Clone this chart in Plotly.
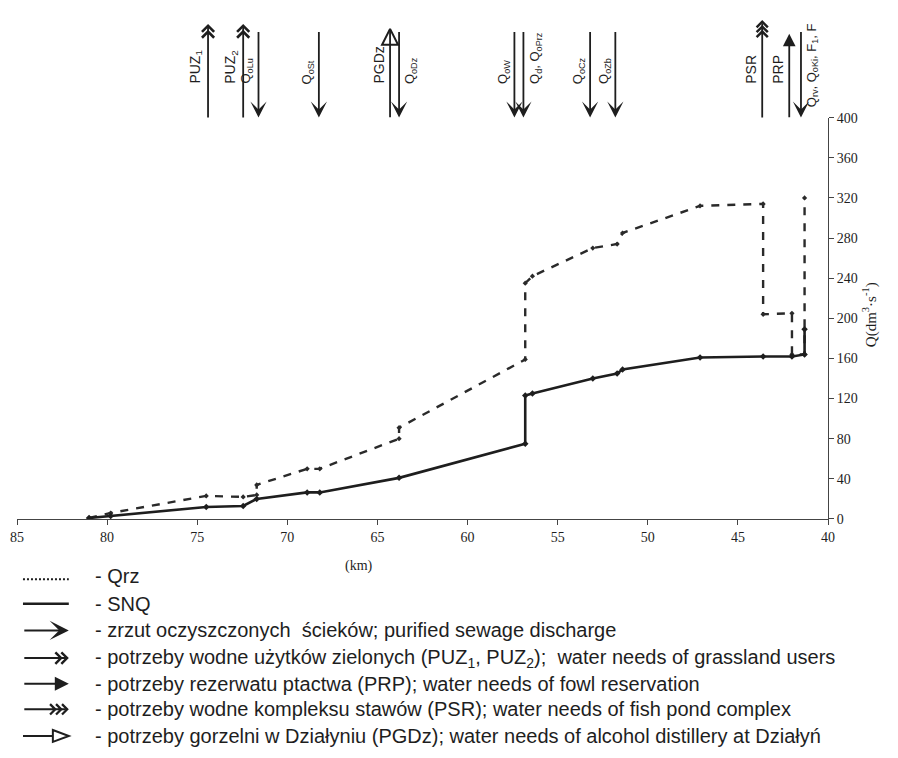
import plotly.graph_objects as go

# ---------------- data ----------------
km_snq = [81.0, 79.8, 74.5, 72.45, 71.7, 68.9, 68.2, 63.8, 56.8, 56.8, 56.4, 53.05,
          51.7, 51.4, 47.1, 43.6, 42.0, 41.3, 41.3]
q_snq = [1, 3, 12, 13, 20, 26.5, 26.5, 41, 75, 123, 125, 140, 145, 149, 161, 162,
         162, 164, 189]

km_qrz = [81.0, 79.8, 74.5, 72.45, 71.7, 71.7, 68.9, 68.2, 63.8, 63.8, 56.8, 56.8,
          56.4, 53.05, 51.7, 51.4, 47.1, 43.6, 43.6, 42.0, 42.0, 41.3, 41.3]
q_qrz = [1, 6, 23, 22, 24, 34, 50, 50, 80, 91, 159, 235, 242, 270, 274, 285, 312,
         314, 204, 205, 164, 164, 320]

x_ticks = [85, 80, 75, 70, 65, 60, 55, 50, 45, 40]
y_ticks = [0, 40, 80, 120, 160, 200, 240, 280, 320, 360, 400]

# discharges (down arrows) along the river
discharge_km = [71.6, 68.25, 63.8, 57.4, 56.9, 53.2, 51.8, 41.5]
discharge_labels = ["Q<sub>oLu</sub>", "Q<sub>oSt</sub>", "Q<sub>oDz</sub>",
                    "Q<sub>oW</sub>", "Q<sub>d</sub>, Q<sub>oPrz</sub>",
                    "Q<sub>oCz</sub>", "Q<sub>oZb</sub>",
                    "Q<sub>rv</sub>, Q<sub>oKi</sub>, F<sub>1</sub>, F"]
discharge_label_side = ["left", "left", "right", "left", "right", "left", "left", "right"]
# withdrawals (up arrows)
grass_km = [74.4, 72.45]
grass_labels = ["PUZ<sub>1</sub>", "PUZ<sub>2</sub>"]
distillery_km = [64.3]
distillery_labels = ["PGDz"]
pond_km = [43.65]
pond_labels = ["PSR"]
fowl_km = [42.15]
fowl_labels = ["PRP"]

legend_texts = [
    "- Qrz",
    "- SNQ",
    "- zrzut oczyszczonych  ścieków; purified sewage discharge",
    "- potrzeby wodne użytków zielonych (PUZ<sub>1</sub>, PUZ<sub>2</sub>);  water needs of grassland users",
    "- potrzeby rezerwatu ptactwa (PRP); water needs of fowl reservation",
    "- potrzeby wodne kompleksu stawów (PSR); water needs of fish pond complex",
    "- potrzeby gorzelni w Działyniu (PGDz); water needs of alcohol distillery at Działyń",
]

# ---------------- layout constants ----------------
# page body has an 8px offset, so the figure is 8px smaller
OFF = 8
W, H = 898 - OFF, 758 - OFF
PLOT_L, PLOT_R, PLOT_T, PLOT_B = 14, 828, 10, 519   # in window pixels
MAIN_TOP_PX = 112
ML = PLOT_L - OFF
MR = 898 - PLOT_R
MT = PLOT_T - OFF
MB = 758 - PLOT_B
PW = PLOT_R - PLOT_L
PH = PLOT_B - PLOT_T
main_top = (PLOT_B - MAIN_TOP_PX) / PH


def px_x(p):
    return (p - PLOT_L) / PW


def px_y(p):
    return (PLOT_B - p) / PH


def strip_y(p):
    return (MAIN_TOP_PX - p) / (MAIN_TOP_PX - PLOT_T)


INK = "#1e1e1e"
SERIF = "Liberation Serif, Times New Roman, serif"
SANS = "Liberation Sans, Arial, sans-serif"

fig = go.Figure()

fig.add_trace(go.Scatter(
    x=km_qrz, y=q_qrz, mode="lines+markers",
    line=dict(color="#2a2a2a", width=2.4, dash="8px,8px"),
    marker=dict(symbol="diamond", size=4, color="#2a2a2a"),
    showlegend=False, hoverinfo="skip"))
fig.add_trace(go.Scatter(
    x=km_snq, y=q_snq, mode="lines+markers",
    line=dict(color=INK, width=2.6),
    marker=dict(symbol="diamond", size=5, color=INK),
    showlegend=False, hoverinfo="skip"))

# strip subplot for the arrows (shares x with main plot)
fig.add_trace(go.Scatter(
    x=distillery_km, y=[strip_y(22)] * len(distillery_km), mode="markers",
    marker=dict(symbol="arrow-up-open", size=16, color=INK, line=dict(width=2, color=INK)),
    xaxis="x2", yaxis="y2", showlegend=False, hoverinfo="skip", cliponaxis=False))

ann = []
shapes = []

# discharges: down arrows
for k, lab, side in zip(discharge_km, discharge_labels, discharge_label_side):
    ann.append(dict(x=k, y=strip_y(112), xref="x2", yref="y2", text="",
                    showarrow=True, ax=0, ay=-87, arrowhead=3, arrowsize=1.5,
                    arrowwidth=1.8, arrowcolor=INK, standoff=0))
    long_lab = "F" in lab
    ann.append(dict(x=k, y=strip_y(103 if long_lab else 80), xref="x2", yref="y2",
                    text=lab, showarrow=False, textangle=-90,
                    xanchor="right" if side == "left" else "left",
                    yanchor="bottom", xshift=-1 if side == "left" else 1,
                    font=dict(family=SANS, size=13, color=INK)))


def up_arrow(k, tip_px, head, size, extra_tips=()):
    ann.append(dict(x=k, y=strip_y(tip_px), xref="x2", yref="y2", text="",
                    showarrow=True, ax=0, ay=MAIN_TOP_PX - tip_px, arrowhead=head,
                    arrowsize=size, arrowwidth=1.8, arrowcolor=INK, standoff=0))
    for t in extra_tips:
        ann.append(dict(x=k, y=strip_y(t), xref="x2", yref="y2", text="",
                        showarrow=True, ax=0, ay=6, arrowhead=head,
                        arrowsize=size, arrowwidth=1.8, arrowcolor=INK, standoff=0))


def up_label(k, lab):
    ann.append(dict(x=k, y=strip_y(80), xref="x2", yref="y2", text=lab,
                    showarrow=False, textangle=-90, xanchor="right",
                    yanchor="bottom", xshift=-2,
                    font=dict(family=SANS, size=14, color=INK)))


for k, lab in zip(grass_km, grass_labels):
    up_arrow(k, 17, 4, 1.3, extra_tips=(23,))
    up_label(k, lab)
for k, lab in zip(distillery_km, distillery_labels):
    ann.append(dict(x=k, y=strip_y(24), xref="x2", yref="y2", text="",
                    showarrow=True, ax=0, ay=88, arrowhead=0,
                    arrowwidth=1.8, arrowcolor=INK, standoff=0))
    up_label(k, lab)
for k, lab in zip(pond_km, pond_labels):
    up_arrow(k, 13, 4, 1.2, extra_tips=(18, 23))
    up_label(k, lab)
for k, lab in zip(fowl_km, fowl_labels):
    up_arrow(k, 27, 2, 1.4)
    up_label(k, lab)

# axis title and km label
ann.append(dict(x=px_x(882), y=px_y(312), xref="paper", yref="paper",
                text="Q(dm<sup>3</sup>·s<sup>-1</sup>)", textangle=-90,
                showarrow=False, font=dict(family=SERIF, size=15, color=INK)))
ann.append(dict(x=px_x(357), y=px_y(577), xref="paper", yref="paper",
                text="(km)", showarrow=False,
                font=dict(family=SERIF, size=14, color=INK)))

# ---------------- custom legend ----------------
rows = [577, 605, 632, 660, 686, 712, 739]
TXT_X = 90
for r, t in zip(rows, legend_texts):
    ann.append(dict(x=px_x(TXT_X), y=px_y(r), xref="paper", yref="paper", text=t,
                    showarrow=False, xanchor="left", yanchor="middle",
                    font=dict(family=SANS, size=20, color=INK)))

SYM0, SYM1 = 20, 66
sx0, sx1 = px_x(SYM0), px_x(SYM1)
# Qrz dotted
shapes.append(dict(type="line", xref="paper", yref="paper", x0=sx0, x1=sx1,
                   y0=px_y(rows[0] + 3), y1=px_y(rows[0] + 3),
                   line=dict(color=INK, width=2, dash="2px,2px")))
# SNQ solid
shapes.append(dict(type="line", xref="paper", yref="paper", x0=sx0, x1=sx1,
                   y0=px_y(rows[1]), y1=px_y(rows[1]),
                   line=dict(color=INK, width=2.4)))


def leg_arrow(row, tip_px, head, size, length):
    ann.append(dict(x=px_x(tip_px), y=px_y(row), xref="paper", yref="paper",
                    text="", showarrow=True, ax=-length, ay=0, arrowhead=head,
                    arrowsize=size, arrowwidth=2, arrowcolor=INK, standoff=0))


leg_arrow(rows[2], SYM1, 3, 1.6, SYM1 - SYM0)
leg_arrow(rows[3], SYM1, 4, 1.1, SYM1 - SYM0)
leg_arrow(rows[3], SYM1 - 6, 4, 1.1, 6)
leg_arrow(rows[4], SYM1, 2, 1.4, SYM1 - SYM0)
leg_arrow(rows[5], SYM1, 4, 1.0, SYM1 - SYM0)
leg_arrow(rows[5], SYM1 - 6, 4, 1.0, 6)
leg_arrow(rows[5], SYM1 - 12, 4, 1.0, 6)
# PGDz: line + open triangle
shapes.append(dict(type="line", xref="paper", yref="paper", x0=sx0, x1=px_x(SYM1 - 16),
                   y0=px_y(rows[6]), y1=px_y(rows[6]),
                   line=dict(color=INK, width=2)))
shapes.append(dict(type="path", xref="paper", yref="paper",
                   path=f"M{px_x(SYM1 - 16)},{px_y(rows[6] - 6)} L{px_x(SYM1)},{px_y(rows[6])} "
                        f"L{px_x(SYM1 - 16)},{px_y(rows[6] + 6)} Z",
                   line=dict(color=INK, width=2), fillcolor="rgba(0,0,0,0)"))

fig.update_layout(
    width=W, height=H,
    margin=dict(l=ML, r=MR, t=MT, b=MB),
    paper_bgcolor="white", plot_bgcolor="white",
    showlegend=False,
    xaxis=dict(range=[85, 40], tickvals=x_ticks, ticks="outside", ticklen=5,
               tickcolor="#444", showline=True, linecolor="#444", linewidth=1,
               showgrid=False, zeroline=False, ticklabeloverflow="allow",
               tickfont=dict(family=SERIF, size=14, color=INK),
               anchor="y", domain=[0, 1]),
    yaxis=dict(range=[0, 400], tickvals=y_ticks, side="right", ticks="outside",
               ticklen=5, tickcolor="#444", showline=True, linecolor="#444",
               linewidth=1, showgrid=False, zeroline=False,
               tickfont=dict(family=SERIF, size=14, color=INK),
               domain=[0, main_top], anchor="x"),
    xaxis2=dict(matches="x", anchor="y2", visible=False, range=[85, 40]),
    yaxis2=dict(range=[0, 1], domain=[main_top, 1], visible=False, anchor="x2"),
    annotations=ann,
    shapes=shapes,
)

fig.write_html("out.html")
